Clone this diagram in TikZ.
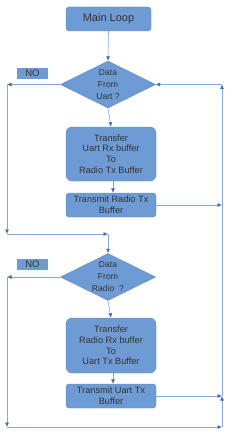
\documentclass[tikz,border=0pt]{standalone}
\usepackage{fontspec}
\setmainfont{Liberation Sans}
\usepackage{tikz}
\usepackage{xcolor}
\usetikzlibrary{positioning, arrows.meta, shapes.geometric}

\definecolor{boxfill}{HTML}{6F9BD5}
\definecolor{boxline}{HTML}{5A87C4}
\definecolor{wire}{HTML}{86A9DA}
\definecolor{tipblue}{HTML}{3D6DB5}
\definecolor{ink}{HTML}{333333}

\tikzset{
	stepbox/.style={draw=boxline, fill=boxfill, rounded corners=3pt, text=ink,
		minimum width=90pt, align=center, inner sep=0pt, font=\fontsize{9.2}{10.8}\selectfont},
	askbox/.style={diamond, draw=boxline, fill=boxfill, text=ink, aspect=2,
		minimum width=95pt, minimum height=47pt, inner sep=0pt, align=center,
		font=\fontsize{8.6}{12}\selectfont},
	nobox/.style={fill=boxfill, text=ink, minimum width=31pt, minimum height=11pt,
		inner sep=0pt, font=\fontsize{9.5}{10}\selectfont},
	wireto/.style={draw=wire, line width=0.6pt, -{Latex[length=4.5pt, width=4pt, color=tipblue]}}
}

\begin{document}
\begin{tikzpicture}[x=1pt, y=-1pt]
		\def\Lx{7}
		\def\Rx{222}

		\useasboundingbox (0,0) rectangle (232,436);

		\node[stepbox, minimum width=85pt, minimum height=24pt,
			font=\fontsize{11}{12}\selectfont] (main) at (108.5,19) {Main Loop};

		\node[askbox] (uart) at (108,84.5) {Data\\From\\Uart ?};
		\node[nobox] (no1) at (32.5,73.5) {NO};

		\node[stepbox, minimum height=54pt, rounded corners=6pt] (xfer1)
			at (111,154) {Transfer\\Uart Rx buffer\\To\\Radio Tx Buffer};
		\node[stepbox, minimum height=24pt] (send1)
			at (111,205) {Transmit Radio Tx\\Buffer};

		\node[askbox] (radio) at (108,277) {Data\\From\\Radio\ \ ?};
		\node[nobox] (no2) at (32.5,264.5) {NO};

		\node[stepbox, minimum height=55pt, rounded corners=6pt] (xfer2)
			at (111,345.5) {Transfer\\Radio Rx buffer\\To\\Uart Tx Buffer};
		\node[stepbox, minimum height=24pt] (send2)
			at (111,396) {Transmit Uart Tx\\Buffer};

		\coordinate (left1) at (\Lx,84.5);
		\coordinate (left1-low) at (\Lx,234);
		\coordinate (join1) at (108,234);
		\coordinate (left2) at (\Lx,277);
		\coordinate (left2-low) at (\Lx,427);
		\coordinate (right-low) at (\Rx,427);
		\coordinate (right-send2) at (\Rx,396);
		\coordinate (right-send1) at (\Rx,205);
		\coordinate (right-top) at (\Rx,84.5);

		% first check
		\draw[wireto] (main.south) -- (uart.north);
		\draw[wireto] (uart.west) -- (left1);
		\draw[wireto] (left1) -- (left1-low);
		\draw[wireto] (left1-low) -- (join1);
		\draw[wireto] (uart.south) -- (xfer1.north);
		\draw[wireto] ([xshift=2pt]xfer1.south) -- ([xshift=2pt]send1.north);
		\draw[wireto] (send1.east) -- (right-send1);

		% second check
		\draw[wireto] (join1) -- (radio.north);
		\draw[wireto] (radio.west) -- (left2);
		\draw[wireto] (left2) -- (left2-low);
		\draw[wireto] (left2-low) -- (right-low);
		\draw[wireto] (radio.south) -- (xfer2.north);
		\draw[wireto] ([xshift=2pt]xfer2.south) -- ([xshift=2pt]send2.north);
		\draw[wireto] (send2.east) -- (right-send2);

		% back to the top
		\draw[wireto] (right-low) -- (right-send2);
		\draw[wireto] (right-send2) -- (right-top);
		\draw[wireto] (right-top) -- (uart.east);
	\end{tikzpicture}
\end{document}
